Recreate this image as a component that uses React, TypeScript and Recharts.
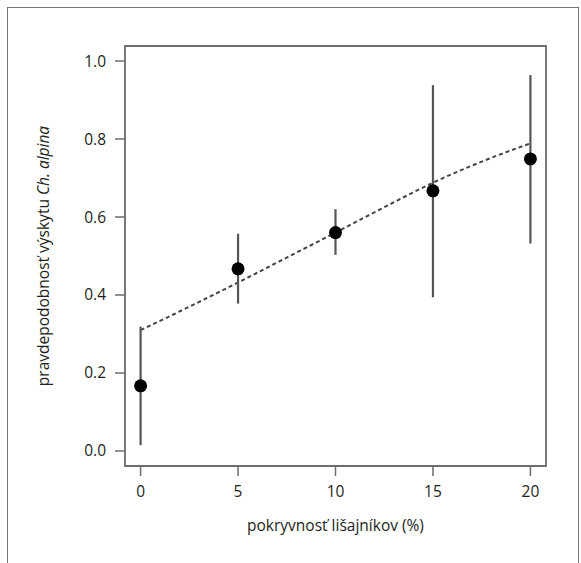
import React from "react";
import {
  ComposedChart,
  Line,
  Scatter,
  ErrorBar,
  XAxis,
  YAxis,
  ReferenceArea,
} from "recharts";

// observed means with 95% intervals
const coverX = [0, 5, 10, 15, 20];
const probMean = [0.167, 0.467, 0.56, 0.667, 0.749];
const probLow = [0.015, 0.378, 0.503, 0.394, 0.532];
const probHigh = [0.319, 0.557, 0.62, 0.938, 0.964];

// fitted curve
const curveX = [0, 2.5, 5, 7.5, 10, 12.5, 15, 17.5, 20];
const curveP = [0.31, 0.37, 0.432, 0.496, 0.56, 0.625, 0.688, 0.742, 0.789];

const xTicks = [0, 5, 10, 15, 20];
const yTicks = [0, 0.2, 0.4, 0.6, 0.8, 1.0];

const X_DOMAIN: [number, number] = [-0.8, 20.8];
const Y_DOMAIN: [number, number] = [-0.0385, 1.0385];

const points = coverX.map((x, i) => ({
  x,
  y: probMean[i],
  err: [probMean[i] - probLow[i], probHigh[i] - probMean[i]],
}));
const curve = curveX.map((x, i) => ({ x, p: curveP[i] }));

const FONT = "'Open Sans', 'Noto Sans', sans-serif";
const FS = 15.5;
const TXT = "#231f20";
const AX = "#6d6d6d";

const Dot = (props: any) => {
  const { cx, cy } = props;
  if (cx == null || cy == null) return null;
  return <circle cx={cx} cy={cy} r={6.5} fill="#000" />;
};

const YLabel = () => (
  <text
    x={0}
    y={0}
    transform="translate(49,256) rotate(-90)"
    textAnchor="middle"
    fontFamily={FONT}
    fontSize={FS}
    fill={TXT}
  >
    <tspan>pravdepodobnosť výskytu </tspan>
    <tspan fontStyle="italic">Ch. alpina</tspan>
  </text>
);

export default function App() {
  return (
    <div
      style={{
        position: "absolute",
        left: 0,
        top: 0,
        width: 581,
        height: 563,
        background: "#fff",
        overflow: "hidden",
      }}
    >
      <div
        style={{
          position: "absolute",
          left: 7,
          top: 7,
          width: 572,
          height: 600,
          borderLeft: "1.5px solid #777",
          borderTop: "1.5px solid #777",
          borderRight: "1.5px solid #777",
          boxSizing: "border-box",
        }}
      />
      <div style={{ position: "absolute", left: 0, top: 0 }}>
        <ComposedChart
          width={581}
          height={563}
          margin={{ top: 46, right: 35, left: 0, bottom: 0 }}
        >
          <XAxis
            dataKey="x"
            type="number"
            domain={X_DOMAIN}
            ticks={xTicks}
            allowDataOverflow
            axisLine={false}
            tickSize={10}
            tickMargin={10}
            tickLine={{ stroke: AX, strokeWidth: 1.5 }}
            tick={{ fill: TXT, fontSize: FS, fontFamily: FONT }}
            height={97}
            label={{
              value: "pokryvnosť lišajníkov (%)",
              position: "insideTop",
              offset: 54,
              fill: TXT,
              fontSize: FS,
              fontFamily: FONT,
            }}
          />
          <YAxis
            dataKey="y"
            type="number"
            domain={Y_DOMAIN}
            ticks={yTicks}
            allowDataOverflow
            axisLine={false}
            width={125}
            tickSize={10}
            tickMargin={9}
            tickLine={{ stroke: AX, strokeWidth: 1.5 }}
            tickFormatter={(v: number) => v.toFixed(1)}
            tick={{ fill: TXT, fontSize: FS, fontFamily: FONT }}
            label={<YLabel />}
          />
          <ReferenceArea
            x1={X_DOMAIN[0]}
            x2={X_DOMAIN[1]}
            y1={Y_DOMAIN[0]}
            y2={Y_DOMAIN[1]}
            fill="none"
            stroke={AX}
            strokeWidth={1.8}
            ifOverflow="visible"
          />
          <Line
            data={curve}
            dataKey="p"
            type="monotone"
            dot={false}
            activeDot={false}
            stroke="#444"
            strokeWidth={2}
            strokeDasharray="4 3"
            isAnimationActive={false}
          />
          <Scatter
            data={points}
            dataKey="y"
            shape={<Dot />}
            isAnimationActive={false}
          >
            <ErrorBar
              dataKey="err"
              direction="y"
              width={0}
              stroke="#555"
              strokeWidth={2.2}
              isAnimationActive={false}
            />
          </Scatter>
        </ComposedChart>
      </div>
    </div>
  );
}
